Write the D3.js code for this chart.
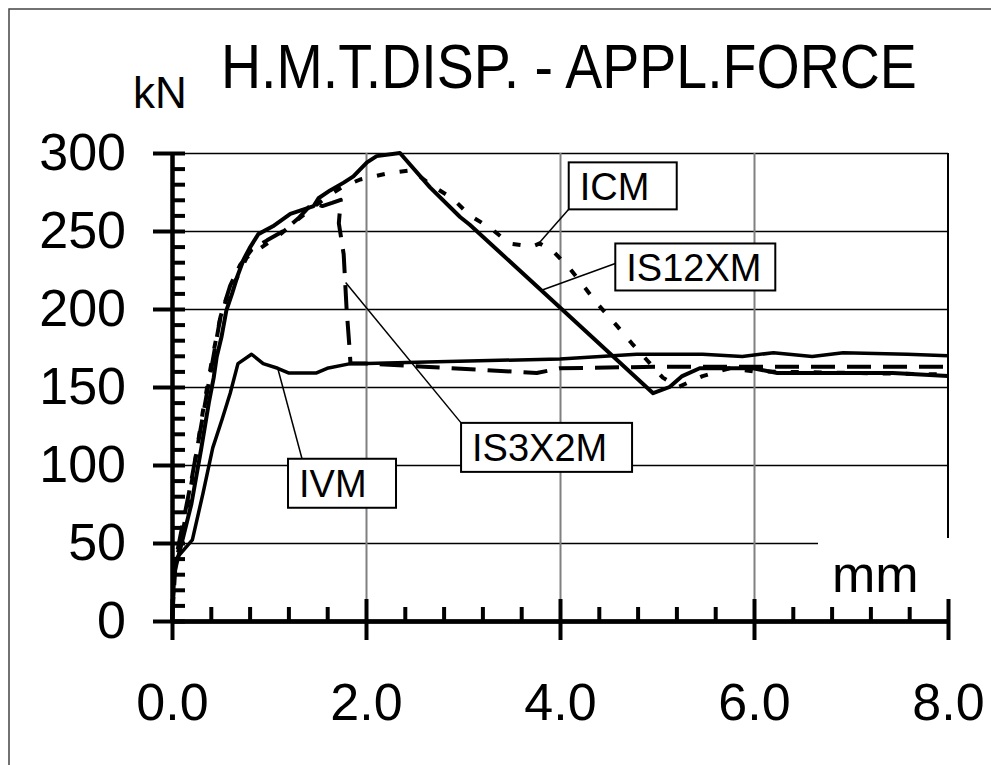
<!DOCTYPE html>
<html>
<head>
<meta charset="utf-8">
<script src="https://cdn.jsdelivr.net/npm/d3@7"></script>
<style>
body { margin: 0; background: #fff; }
svg text { font-family: "Liberation Sans", Arial, sans-serif; fill: #000; }
.grid line { stroke: #000; stroke-width: 1.5; }
.grid path { display: none; }
.vgrid line { stroke: #808080; stroke-width: 2; }
.vgrid path { display: none; }
.axis path, .axis line { stroke: #000; stroke-width: 4; }
.curve { fill: none; stroke: #000; stroke-linejoin: round; }
</style>
</head>
<body>
<script>
//wrap everything in a self-executing anonymous function
(function(){

//chart texts
var chartTitle = "H.M.T.DISP. - APPL.FORCE";
var yUnit = "kN";
var xUnit = "mm";

//tick values and labels
var xMajor = [0, 2, 4, 6, 8];
var xTickLabels = ["0.0", "2.0", "4.0", "6.0", "8.0"];
var xMinor = [0.4, 0.8, 1.2, 1.6, 2.4, 2.8, 3.2, 3.6, 4.4, 4.8, 5.2, 5.6, 6.4, 6.8, 7.2, 7.6];
var yMajor = [0, 50, 100, 150, 200, 250, 300];
var yMinor = [10, 20, 30, 40, 60, 70, 80, 90, 110, 120, 130, 140, 160, 170, 180, 190, 210, 220, 230, 240, 260, 270, 280, 290];

//series: displacement (mm) and force (kN)
var is12xmDisp  = [0, 0.02, 0.1, 0.2, 0.3, 0.38, 0.43, 0.46, 0.51, 0.56, 0.62, 0.68, 0.74, 0.8, 0.89, 1.04, 1.22, 1.32, 1.46, 1.51, 1.63, 1.77, 1.87, 2.01, 2.11, 2.35, 2.66, 2.97, 3.07, 4.0, 4.96, 5.13, 5.26, 5.44, 5.99, 6.24, 7.43, 8.0];
var is12xmForce = [0, 30, 50, 75, 110, 140, 156, 169, 182, 199, 210, 222, 232, 239, 248, 253, 261, 263, 266, 271, 276, 281, 285, 294, 298, 300, 278, 259, 254, 201, 146, 150, 157, 162, 162, 159, 159, 157];

var icmDisp  = [0, 0.03, 0.12, 0.22, 0.32, 0.42, 0.5, 0.58, 0.67, 0.77, 0.91, 1.08, 1.29, 1.45, 1.6, 1.75, 1.94, 2.23, 2.47, 2.68, 2.89, 3.07, 3.28, 3.48, 3.71, 3.79, 3.93, 4.1, 4.24, 4.39, 4.59, 4.74, 4.9, 5.06, 5.22, 5.47, 5.75, 6.0, 7.0, 8.0];
var icmForce = [0, 35, 60, 95, 135, 170, 195, 210, 220, 233, 239, 246, 257, 265, 272, 278, 283, 287, 289, 279, 271, 260, 252, 242, 240, 242, 237, 226, 215, 203, 189, 178, 167, 156, 150, 157, 162, 160, 159, 158];

var is3x2mDisp  = [0, 0.04, 0.12, 0.2, 0.3, 0.4, 0.5, 0.6, 0.7, 0.82, 0.98, 1.15, 1.3, 1.45, 1.55, 1.65, 1.74, 1.72, 1.77, 1.8, 1.83, 1.84, 2.0, 2.6, 3.2, 3.76, 4.0, 5.0, 6.0, 8.0];
var is3x2mForce = [0, 40, 65, 90, 125, 160, 195, 215, 228, 238, 244, 250, 258, 268, 266, 268, 270, 255, 235, 200, 175, 165, 165, 163, 161, 159, 162, 163, 163, 163];

var ivmDisp  = [0, 0.03, 0.21, 0.32, 0.42, 0.52, 0.6, 0.68, 0.82, 0.94, 1.09, 1.2, 1.49, 1.6, 1.84, 2.01, 2.63, 4.0, 4.79, 5.47, 5.88, 6.2, 6.6, 6.92, 7.58, 8.0];
var ivmForce = [0, 39, 52, 82, 111, 130, 146, 165, 171, 165, 162, 159, 159, 162, 165, 165, 166, 168, 171, 171, 169.5, 172, 169.5, 172, 171, 170];

//curve labels: the point each leader touches and the box corner, in data units
var labelNames  = ["ICM", "IS12XM", "IS3X2M", "IVM"];
var labelPointX = [3.78, 3.81, 1.79, 1.09];
var labelPointY = [242, 212, 217, 162];
var labelBoxX   = [4.09, 4.57, 2.98, 1.196];
var labelBoxY   = [294, 242, 127, 104];

//box sizes and where the leader leaves the box (px from box corner)
var boxLayout = [
    {w: 108, h: 47, lx: 0, ly: 47},
    {w: 160, h: 47, lx: 0, ly: 20},
    {w: 171, h: 49, lx: 0, ly: 0},
    {w: 108, h: 49, lx: 14, ly: 0}
];

//line style for each series
var seriesStyles = [
    {name: "IS12XM", x: is12xmDisp, y: is12xmForce, width: 4, dash: null},
    {name: "ICM", x: icmDisp, y: icmForce, width: 4, dash: "8,15"},
    {name: "IS3X2M", x: is3x2mDisp, y: is3x2mForce, width: 4, dash: "24,12"},
    {name: "IVM", x: ivmDisp, y: ivmForce, width: 3.5, dash: null}
];

window.onload = setChart();

function setChart(){
    var width = 991,
        height = 765;

    var svg = d3.select("body")
        .append("svg")
        .attr("width", width)
        .attr("height", height);

    //outer frame, runs off the right and bottom edges
    svg.append("rect")
        .attr("x", 9)
        .attr("y", 9)
        .attr("width", 1000)
        .attr("height", 800)
        .attr("fill", "#fff")
        .attr("stroke", "#444")
        .attr("stroke-width", 1.5);

    var x = d3.scaleLinear().domain([0, 8]).range([172, 948]);
    var y = d3.scaleLinear().domain([0, 300]).range([621, 153]);

    //horizontal gridlines
    svg.append("g")
        .attr("class", "grid")
        .attr("transform", "translate(" + x(0) + ",0)")
        .call(d3.axisRight(y).tickValues(yMajor.slice(1)).tickSize(x(8) - x(0)).tickFormat(""));

    //vertical gridlines
    svg.append("g")
        .attr("class", "vgrid")
        .attr("transform", "translate(0," + y(0) + ")")
        .call(d3.axisTop(x).tickValues(xMajor.slice(1, 4)).tickSize(y(0) - y(300)).tickFormat(""));

    //right side of plot frame
    svg.append("line")
        .attr("x1", x(8)).attr("x2", x(8))
        .attr("y1", y(300)).attr("y2", y(0))
        .attr("stroke", "#000")
        .attr("stroke-width", 2);

    //curves
    var line = d3.line()
        .x(function(d){ return x(d[0]); })
        .y(function(d){ return y(d[1]); });

    seriesStyles.forEach(function(s){
        var pts = s.x.map(function(v, i){ return [v, s.y[i]]; });
        svg.append("path")
            .datum(pts)
            .attr("class", "curve")
            .attr("d", line)
            .attr("stroke-width", s.width)
            .attr("stroke-dasharray", s.dash);
    });

    //y axis: outward majors with labels, inward majors and minors
    var yAxis = svg.append("g")
        .attr("class", "axis")
        .attr("transform", "translate(" + x(0) + ",0)")
        .call(d3.axisLeft(y).tickValues(yMajor).tickSize(19).tickSizeOuter(0).tickPadding(27));
    yAxis.selectAll("text").attr("font-size", 52);
    yAxis.attr("font-family", null);

    svg.append("g")
        .attr("class", "axis")
        .attr("transform", "translate(" + x(0) + ",0)")
        .call(d3.axisRight(y).tickValues(yMajor.concat(yMinor)).tickSize(13).tickSizeOuter(0).tickFormat(""));

    //x axis
    var xAxis = svg.append("g")
        .attr("class", "axis")
        .attr("transform", "translate(0," + y(0) + ")")
        .call(d3.axisBottom(x).tickValues(xMajor).tickSize(19).tickSizeOuter(0).tickPadding(43)
            .tickFormat(function(d, i){ return xTickLabels[i]; }));
    xAxis.selectAll("text").attr("font-size", 52);
    xAxis.attr("font-family", null);

    svg.append("g")
        .attr("class", "axis")
        .attr("transform", "translate(0," + y(0) + ")")
        .call(d3.axisTop(x).tickValues(xMajor).tickSize(22).tickSizeOuter(0).tickFormat(""));
    svg.append("g")
        .attr("class", "axis")
        .attr("transform", "translate(0," + y(0) + ")")
        .call(d3.axisTop(x).tickValues(xMinor).tickSize(14).tickSizeOuter(0).tickFormat(""));

    //curve labels with leader lines
    labelNames.forEach(function(name, i){
        var bx = x(labelBoxX[i]),
            by = y(labelBoxY[i]),
            b = boxLayout[i];
        svg.append("line")
            .attr("x1", bx + b.lx).attr("y1", by + b.ly)
            .attr("x2", x(labelPointX[i])).attr("y2", y(labelPointY[i]))
            .attr("stroke", "#000")
            .attr("stroke-width", 1.5);
        svg.append("rect")
            .attr("x", bx).attr("y", by)
            .attr("width", b.w).attr("height", b.h)
            .attr("fill", "#fff")
            .attr("stroke", "#000")
            .attr("stroke-width", 2);
        svg.append("text")
            .attr("x", bx + 11)
            .attr("y", by + 38)
            .attr("font-size", 38)
            .text(name);
    });

    //x unit with white patch behind it
    svg.append("rect")
        .attr("x", 818).attr("y", 538)
        .attr("width", 150).attr("height", 61)
        .attr("fill", "#fff");
    svg.append("text")
        .attr("x", 832)
        .attr("y", 592)
        .attr("font-size", 52)
        .text(xUnit);

    //title and y unit (the title font is tall and narrow)
    svg.append("text")
        .attr("x", 133)
        .attr("y", 108)
        .attr("font-size", 44)
        .text(yUnit);
    svg.append("text")
        .attr("transform", "translate(221,88) scale(1,1.14)")
        .attr("font-size", 55.5)
        .text(chartTitle);
};
})();
</script>
</body>
</html>
